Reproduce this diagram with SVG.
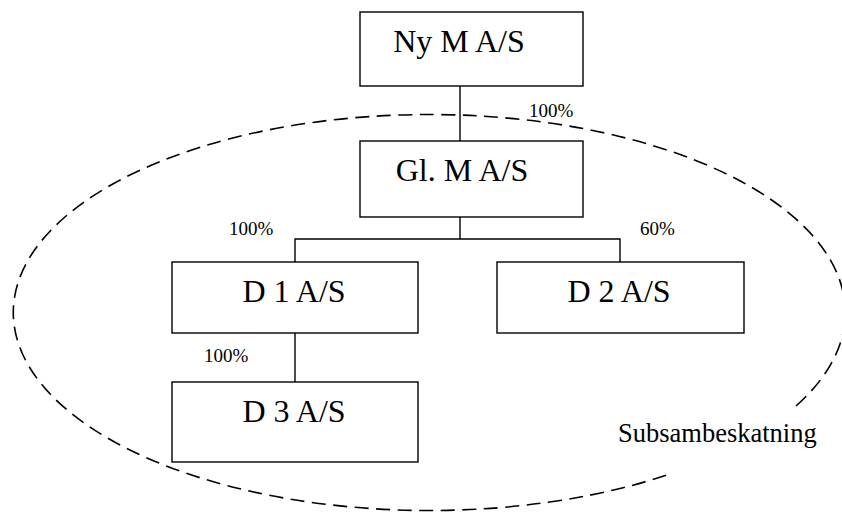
<svg xmlns="http://www.w3.org/2000/svg" width="842" height="512" viewBox="0 0 842 512">
  <style>
    .box { fill: #ffffff; stroke: #000000; stroke-width: 1.4; }
    .name { font-family: "Liberation Serif", "Times New Roman", serif; font-size: 32px; fill: #000000; text-anchor: middle; }
    .pct { font-family: "Liberation Serif", "Times New Roman", serif; font-size: 19px; fill: #000000; }
    .conn { fill: none; stroke: #000000; stroke-width: 1.4; }
    .group-outline { fill: none; stroke: #000000; stroke-width: 1.6; stroke-dasharray: 14 7.5; }
    .note { font-family: "Liberation Serif", "Times New Roman", serif; font-size: 26.5px; fill: #000000; }
  </style>

  <rect width="842" height="512" fill="#ffffff"/>

  <!-- Tax group boundary (open near its caption) -->
  <g id="tax-group">
    <path class="group-outline" d="M 796 406 A 416 198 0 1 0 670 474"/>
    <text class="note" x="618" y="442">Subsambeskatning</text>
  </g>

  <!-- Ownership lines -->
  <g id="connectors">
    <line class="conn" x1="460" y1="86" x2="460" y2="141"/>
    <polyline class="conn" points="460,217 460,239"/>
    <polyline class="conn" points="295,262 295,239 620,239 620,262"/>
    <line class="conn" x1="295" y1="333" x2="295" y2="382"/>
    <text class="pct" x="529" y="117">100%</text>
    <text class="pct" x="229" y="235">100%</text>
    <text class="pct" x="640" y="235">60%</text>
    <text class="pct" x="204" y="362">100%</text>
  </g>

  <g id="ny-m">
    <rect class="box" x="360" y="12" width="223" height="74"/>
    <text class="name" x="459" y="52">Ny M A/S</text>
  </g>

  <g id="gl-m">
    <rect class="box" x="360" y="141" width="223" height="76"/>
    <text class="name" x="462" y="181">Gl. M A/S</text>
  </g>

  <g id="d1">
    <rect class="box" x="172" y="262" width="246" height="71"/>
    <text class="name" x="294" y="302">D 1 A/S</text>
  </g>

  <g id="d2">
    <rect class="box" x="497" y="262" width="247" height="71"/>
    <text class="name" x="619" y="302">D 2 A/S</text>
  </g>

  <g id="d3">
    <rect class="box" x="172" y="382" width="246" height="80"/>
    <text class="name" x="294" y="422">D 3 A/S</text>
  </g>
</svg>
